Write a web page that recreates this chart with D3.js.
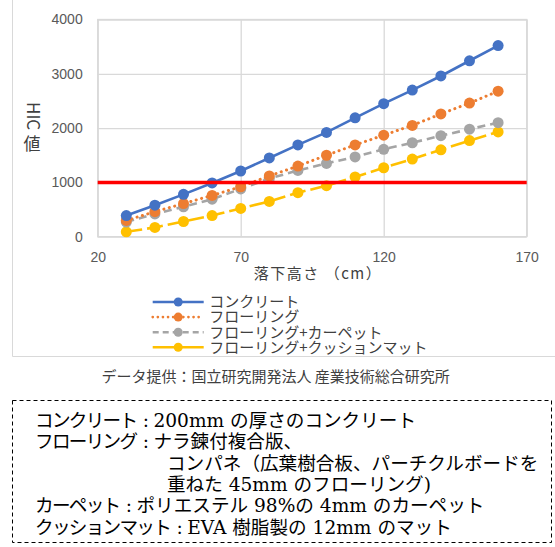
<!DOCTYPE html>
<html>
<head>
<meta charset="utf-8">
<script src="https://cdn.jsdelivr.net/npm/d3@7"></script>
<style>
  body { margin: 0; background: #fff; }
  svg { display: block; font-family: "Noto Sans CJK JP", "Noto Sans", sans-serif; }
  .axis text { fill: #595959; font-size: 14px; }
  .note { font-family: "DejaVu Serif", "Noto Sans CJK JP", serif; font-size: 18.6px; fill: #000; }
  .note .label { letter-spacing: -1.7px; }
</style>
</head>
<body>
<div class="chart"></div>
<script>
// 落下高さ (cm)
const heights = [30, 40, 50, 60, 70, 80, 90, 100, 110, 120, 130, 140, 150, 160]

// HIC値
const concrete = [390, 580, 780, 990, 1210, 1450, 1690, 1920, 2190, 2450, 2700, 2960, 3240, 3520]
const flooring = [300, 460, 610, 760, 920, 1120, 1300, 1500, 1690, 1870, 2050, 2260, 2460, 2680]
const carpet = [270, 420, 550, 690, 880, 1070, 1220, 1350, 1470, 1610, 1730, 1860, 1980, 2100]
const cushion = [90, 170, 280, 390, 520, 650, 810, 940, 1100, 1270, 1430, 1600, 1770, 1930]

const seriesNames = ['コンクリート', 'フローリング', 'フローリング+カーペット', 'フローリング+クッションマット']
const xTicks = [20, 70, 120, 170]
const yTicks = [0, 1000, 2000, 3000, 4000]
const threshold = 1000

const noteLines = [
  ['コンクリート', '200mm の厚さのコンクリート'],
  ['フローリング', 'ナラ鍊付複合版、'],
  ['', 'コンパネ（広葉樹合板、パーチクルボードを'],
  ['', '重ねた 45mm のフローリング)'],
  ['カーペット', 'ポリエステル 98%の 4mm のカーペット'],
  ['クッションマット', 'EVA 樹脂製の 12mm のマット']
]

const styles = [
  { color: '#4472c4', dash: null, legendDash: null },
  { color: '#ed7d31', dash: '0.1,5.5', legendDash: '0.1,5' },
  { color: '#a5a5a5', dash: '8,5', legendDash: '6,4' },
  { color: '#ffc000', dash: '16,5', legendDash: null }
]

const width = 555
const height = 547

const margins = { top: 19.5, right: 28.3, bottom: 310.3, left: 97.7 }
const innerWidth = width - margins.left - margins.right
const innerHeight = height - margins.top - margins.bottom

const svg = d3.select('.chart')
  .append('svg')
  .attr('width', width)
  .attr('height', height)

// chart frame (partly outside the window)
svg.append('path')
  .attr('d', `M12.5,0 V356.5 H${width}`)
  .attr('fill', 'none')
  .attr('stroke', '#d9d9d9')

const g = svg.append('g')
  .attr('transform', `translate(${margins.left}, ${margins.top})`)

const x = d3.scaleLinear().domain([20, 170]).range([0, innerWidth])
const y = d3.scaleLinear().domain([0, 4000]).range([innerHeight, 0])

g.append('g')
  .attr('class', 'axis axis__x')
  .attr('transform', `translate(0, ${innerHeight})`)
  .call(d3.axisBottom(x).tickValues(xTicks).tickSize(-innerHeight).tickPadding(15).tickFormat(d3.format('d')))
  .call(s => s.select('.domain').remove())

g.append('g')
  .attr('class', 'axis axis__y')
  .call(d3.axisLeft(y).tickValues(yTicks).tickSize(-innerWidth).tickPadding(15).tickFormat(d3.format('d')))
  .call(s => s.select('.domain').remove())

g.selectAll('.axis line').attr('stroke', '#d9d9d9').attr('stroke-width', 1.3)
g.selectAll('.axis text').style('font-size', '14px')

g.append('rect')
  .attr('width', innerWidth)
  .attr('height', innerHeight)
  .attr('fill', 'none')
  .attr('stroke', '#d9d9d9')
  .attr('stroke-width', 1.3)

const allSeries = [concrete, flooring, carpet, cushion]

const line = d3.line()
  .x((d, i) => x(heights[i]))
  .y(d => y(d))

// draw from last to first so blue sits on top
allSeries.map((s, i) => i).reverse().forEach(i => {
  const st = styles[i]
  g.append('path')
    .datum(allSeries[i])
    .attr('fill', 'none')
    .attr('stroke', st.color)
    .attr('stroke-width', i === 1 ? 3 : 2.6)
    .attr('stroke-linecap', i === 1 ? 'round' : 'butt')
    .attr('stroke-dasharray', st.dash)
    .attr('d', line)

  g.append('g')
    .selectAll('circle')
    .data(allSeries[i])
    .join('circle')
    .attr('cx', (d, j) => x(heights[j]))
    .attr('cy', d => y(d))
    .attr('r', 5.5)
    .attr('fill', st.color)
})

// red threshold line at HIC 1000
g.append('line')
  .attr('x1', 0)
  .attr('x2', innerWidth)
  .attr('y1', y(threshold))
  .attr('y2', y(threshold))
  .attr('stroke', '#ff0000')
  .attr('stroke-width', 3.5)

// axis titles
svg.append('text')
  .attr('x', 318)
  .attr('y', 279)
  .attr('text-anchor', 'middle')
  .attr('fill', '#404040')
  .style('font-size', '15px')
  .style('letter-spacing', '1.5px')
  .text('落下高さ （cm）')

// "HIC" turned sideways, "値" upright below it
svg.append('text')
  .attr('transform', 'translate(26.5, 102) rotate(90)')
  .attr('fill', '#404040')
  .style('font-size', '17px')
  .text('HIC')

svg.append('text')
  .attr('x', 32)
  .attr('y', 150)
  .attr('text-anchor', 'middle')
  .attr('fill', '#404040')
  .style('font-size', '17px')
  .text('値')

// legend
const legend = svg.append('g')
  .attr('transform', 'translate(152.7, 302)')

seriesNames.forEach((name, i) => {
  const st = styles[i]
  const row = legend.append('g').attr('transform', `translate(0, ${i * 15.1})`)
  row.append('line')
    .attr('x1', 0).attr('x2', 51)
    .attr('stroke', st.color)
    .attr('stroke-width', i === 1 ? 2.6 : 2.4)
    .attr('stroke-linecap', i === 1 ? 'round' : 'butt')
    .attr('stroke-dasharray', st.legendDash)
  row.append('circle')
    .attr('cx', 25.5)
    .attr('r', 4.5)
    .attr('fill', st.color)
  row.append('text')
    .attr('x', 56.5)
    .attr('y', 5.3)
    .attr('fill', '#404040')
    .style('font-size', '15px')
    .text(name)
})

svg.append('text')
  .attr('x', 101.5)
  .attr('y', 382)
  .attr('fill', '#404040')
  .style('font-size', '15px')
  .text('データ提供：国立研究開発法人 産業技術総合研究所')

// note box
svg.append('rect')
  .attr('x', 12.5)
  .attr('y', 400.5)
  .attr('width', 539)
  .attr('height', 142)
  .attr('fill', 'none')
  .attr('stroke', '#000')
  .attr('stroke-dasharray', '4,3')

const note = svg.append('g').attr('class', 'note')
noteLines.forEach((d, i) => {
  const t = note.append('text')
    .attr('y', 427 + i * 21.3)
  if (d[0]) {
    const end = 35 + d[0].length * 16.9
    t.append('tspan').attr('class', 'label').attr('x', 35).text(d[0])
    t.append('tspan').attr('x', end + 9.5).attr('text-anchor', 'middle').text(':')
    t.append('tspan').attr('x', end + 17).text(d[1])
  } else {
    t.append('tspan').attr('x', 167).text(d[1])
  }
})
</script>
</body>
</html>
